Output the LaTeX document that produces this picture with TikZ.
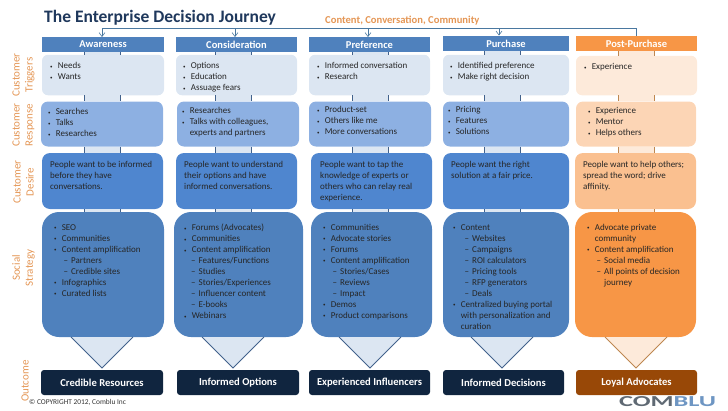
\documentclass[tikz,border=0pt]{standalone}
\usepackage{fontspec}
\setmainfont{Carlito}
\usetikzlibrary{arrows.meta,calc,positioning}
\definecolor{figNavy}{RGB}{31,56,92}
\definecolor{figTag}{RGB}{228,150,85}
\definecolor{figBus}{RGB}{74,120,160}
\definecolor{hdrB}{RGB}{79,129,189}
\definecolor{trigB}{RGB}{220,230,242}
\definecolor{respB}{RGB}{141,176,226}
\definecolor{wantB}{RGB}{79,134,207}
\definecolor{endB}{RGB}{16,37,63}
\definecolor{hdrO}{RGB}{247,150,70}
\definecolor{trigO}{RGB}{253,234,218}
\definecolor{respO}{RGB}{252,213,181}
\definecolor{wantO}{RGB}{250,192,144}
\definecolor{endO}{RGB}{152,72,7}
\definecolor{tickB}{RGB}{66,98,140}
\definecolor{tickO}{RGB}{190,135,80}
\definecolor{logoG}{RGB}{95,105,115}
\definecolor{logoB}{RGB}{110,150,195}
\newcommand{\itm}[1]{\makebox[7.6pt][l]{\raisebox{.6pt}{\fontsize{5}{5}\selectfont\textbullet}}#1}
\newcommand{\sub}[2][9.5pt]{\hspace*{#1}\makebox[7.5pt][l]{--}#2}
% two ticks and the pale strip between them
\newcommand{\joint}[5]{%
\fill[#1] (#3.south -| l#5) rectangle (#4.north -| r#5);
\draw[#2,thick] (#3.south -| l#5)--(#4.north -| l#5);
\draw[#2,thick] (#3.south -| r#5)--(#4.north -| r#5);}
\newcommand{\funnel}[3]{%
\fill[#1] ($(#2)+(-31,-31)$)--(#2)--($(#2)+(31,-31)$)--cycle;
\draw[#3,thick] ($(#2)+(-31,-31)$)--(#2)--($(#2)+(31,-31)$);}
\tikzset{
boxhdr/.style={inner sep=0pt,text=white,font=\fontsize{10.5}{11}\selectfont\bfseries},
boxend/.style={inner sep=0pt,rounded corners=3pt,text=white,font=\fontsize{10.6}{11}\selectfont\bfseries},
boxfill/.style={inner sep=0pt},
boxtext/.style={anchor=north west,inner sep=0pt,align=left,text=black!85,font=\fontsize{9}{11}\selectfont},
tagtext/.style={rotate=90,text=figTag,align=center,inner sep=0pt,font=\fontsize{11}{13}\selectfont},
busarrow/.style={figBus,semithick,-{Straight Barb[length=4pt,width=6pt]}},
}
\begin{document}
\begin{tikzpicture}[x=1pt,y=-1pt]
\useasboundingbox (0,0) rectangle (728,410);
\coordinate (lA) at (84,0); \coordinate (rA) at (120,0);
\coordinate (lB) at (215,0); \coordinate (rB) at (251,0);
\coordinate (lC) at (352,0); \coordinate (rC) at (388,0);
\coordinate (lD) at (484,0); \coordinate (rD) at (520,0);
\coordinate (lE) at (618,0); \coordinate (rE) at (654,0);
\coordinate (tipA) at (102,368);
\coordinate (tipB) at (233,368);
\coordinate (tipC) at (370,368);
\coordinate (tipD) at (502,368);
\coordinate (tipE) at (636,368);
% titles
\node[anchor=west,inner sep=0pt,text=figNavy,font=\fontsize{17.5}{18}\selectfont\bfseries] (title) at (44,18) {The Enterprise Decision Journey};
\node[anchor=west,inner sep=0pt,text=figTag,font=\fontsize{10.6}{11}\selectfont\bfseries] (theme) at (325,20.5) {Content, Conversation, Community};
% row labels
\node[tagtext] (tagTrig) at (23.5,75) {Customer\\Triggers};
\node[tagtext] (tagResp) at (23.5,125) {Customer\\Response};
\node[tagtext] (tagWant) at (23.5,182) {Customer\\Desire};
\node[tagtext] (tagStrat) at (23.5,268) {Social\\Strategy};
\node[tagtext] (tagEnd) at (25,381) {Outcome};
% Awareness
\node[boxhdr,fill=hdrB,minimum width=122,minimum height=14.5] (hdrA) at (103,44.5) {Awareness};
\node[boxfill,fill=trigB,rounded corners=6pt,minimum width=122,minimum height=40.5] (trigA) at (103,75) {};
\node[boxfill,fill=respB,rounded corners=7pt,minimum width=122,minimum height=45] (respA) at (102,124) {};
\node[boxfill,fill=wantB,rounded corners=8pt,minimum width=121,minimum height=56] (wantA) at (102.5,181) {};
\node[boxfill,fill=hdrB,rounded corners=17pt,minimum width=122,minimum height=125] (stratA) at (103,274.5) {};
\node[boxend,fill=endB,minimum width=122,minimum height=25] (endA) at (102,382.5) {Credible Resources};
\node[boxtext] (trigAt) at (50,62.5) {\itm{Needs}\\\itm{Wants}};
\node[boxtext] (respAt) at (48,108.5) {\itm{Searches}\\\itm{Talks}\\\itm{Researches}};
\node[boxtext] (wantAt) at (50,161.5) {People want to be informed\\before they have\\conversations.};
\node[boxtext] (stratAt) at (54,224) {\itm{SEO}\\\itm{Communities}\\\itm{Content amplification}\\\sub{Partners}\\\sub{Credible  sites}\\\itm{Infographics}\\\itm{Curated lists}};
% Consideration
\node[boxhdr,fill=hdrB,minimum width=121,minimum height=14.5] (hdrB) at (236.5,44.5) {Consideration};
\node[boxfill,fill=trigB,rounded corners=6pt,minimum width=121,minimum height=40.5] (trigB) at (236.5,75) {};
\node[boxfill,fill=respB,rounded corners=7pt,minimum width=122,minimum height=45] (respB) at (238,124) {};
\node[boxfill,fill=wantB,rounded corners=8pt,minimum width=121,minimum height=56] (wantB) at (236.5,181) {};
\node[boxfill,fill=hdrB,rounded corners=17pt,minimum width=129,minimum height=125] (stratB) at (238.5,274.5) {};
\node[boxend,fill=endB,minimum width=122,minimum height=25] (endB) at (238,382.5) {Informed Options};
\node[boxtext] (trigBt) at (183,62.5) {\itm{Options}\\\itm{Education}\\\itm{Assuage fears}};
\node[boxtext] (respBt) at (182,107.5) {\itm{Researches}\\\itm{Talks with colleagues,}\\\hspace*{7.6pt}experts and partners};
\node[boxtext] (wantBt) at (184,161.5) {People want to understand\\their options and have\\informed conversations.};
\node[boxtext] (stratBt) at (184,224) {\itm{Forums (Advocates)}\\\itm{Communities}\\\itm{Content amplification}\\\sub[7pt]{Features/Functions}\\\sub[7pt]{Studies}\\\sub[7pt]{Stories/Experiences}\\\sub[7pt]{Influencer content}\\\sub[7pt]{E-books}\\\itm{Webinars}};
% Preference
\node[boxhdr,fill=hdrB,minimum width=121,minimum height=14.5] (hdrC) at (369.5,44.5) {Preference};
\node[boxfill,fill=trigB,rounded corners=6pt,minimum width=121,minimum height=40.5] (trigC) at (369.5,75) {};
\node[boxfill,fill=respB,rounded corners=7pt,minimum width=122,minimum height=45] (respC) at (370,124) {};
\node[boxfill,fill=wantB,rounded corners=8pt,minimum width=121,minimum height=56] (wantC) at (371.5,181) {};
\node[boxfill,fill=hdrB,rounded corners=17pt,minimum width=121,minimum height=125] (stratC) at (371.5,274.5) {};
\node[boxend,fill=endB,minimum width=121,minimum height=25] (endC) at (369.5,382.5) {Experienced Influencers};
\node[boxtext] (trigCt) at (317,62.5) {\itm{Informed conversation}\\\itm{Research}};
\node[boxtext] (respCt) at (317,106.5) {\itm{Product-set}\\\itm{Others like me}\\\itm{More conversations}};
\node[boxtext] (wantCt) at (320,161.5) {People want to tap the\\knowledge of experts or\\others who can relay real\\experience.};
\node[boxtext] (stratCt) at (323,224) {\itm{Communities}\\\itm{Advocate stories}\\\itm{Forums}\\\itm{Content amplification}\\\sub{Stories/Cases}\\\sub{Reviews}\\\sub{Impact}\\\itm{Demos}\\\itm{Product comparisons}};
% Purchase
\node[boxhdr,fill=hdrB,minimum width=126,minimum height=15.5] (hdrD) at (506,43.5) {Purchase};
\node[boxfill,fill=trigB,rounded corners=6pt,minimum width=126,minimum height=40.5] (trigD) at (506,75) {};
\node[boxfill,fill=respB,rounded corners=7pt,minimum width=126,minimum height=45] (respD) at (506,124) {};
\node[boxfill,fill=wantB,rounded corners=8pt,minimum width=126,minimum height=56] (wantD) at (506,181) {};
\node[boxfill,fill=hdrB,rounded corners=17pt,minimum width=126,minimum height=125] (stratD) at (506,274.5) {};
\node[boxend,fill=endB,minimum width=121,minimum height=25] (endD) at (503.5,382.5) {Informed Decisions};
\node[boxtext] (trigDt) at (450,62.5) {\itm{Identified preference}\\\itm{Make right decision}};
\node[boxtext] (respDt) at (448,106.5) {\itm{Pricing}\\\itm{Features}\\\itm{Solutions}};
\node[boxtext] (wantDt) at (451,161.5) {People want the right\\solution at a fair price.};
\node[boxtext] (stratDt) at (453,224) {\itm{Content}\\\sub[11.5pt]{Websites}\\\sub[11.5pt]{Campaigns}\\\sub[11.5pt]{ROI calculators}\\\sub[11.5pt]{Pricing tools}\\\sub[11.5pt]{RFP generators}\\\sub[11.5pt]{Deals}\\\itm{Centralized buying portal}\\\hspace*{7.6pt}with personalization and\\\hspace*{7.6pt}curation};
% Post-Purchase
\node[boxhdr,fill=hdrO,minimum width=121,minimum height=14.5] (hdrE) at (636.5,43.5) {Post-Purchase};
\node[boxfill,fill=trigO,rounded corners=6pt,minimum width=121,minimum height=39.5] (trigE) at (636.5,75.5) {};
\node[boxfill,fill=respO,rounded corners=7pt,minimum width=120,minimum height=45] (respE) at (636,124) {};
\node[boxfill,fill=wantO,rounded corners=8pt,minimum width=121,minimum height=56] (wantE) at (635.5,181) {};
\node[boxfill,fill=hdrO,rounded corners=17pt,minimum width=121,minimum height=125] (stratE) at (635.5,274.5) {};
\node[boxend,fill=endO,minimum width=121,minimum height=25] (endE) at (636.5,382.5) {Loyal Advocates};
\node[boxtext] (trigEt) at (584,63.5) {\itm{Experience}};
\node[boxtext] (respEt) at (588,107.5) {\itm{Experience}\\\itm{Mentor}\\\itm{Helps others}};
\node[boxtext] (wantEt) at (583,161.5) {People want to help others;\\spread the word; drive\\affinity.};
\node[boxtext] (stratEt) at (587,224) {\itm{Advocate private}\\\hspace*{7.6pt}community\\\itm{Content amplification}\\\sub{Social media}\\\sub{All points of decision}\\\hspace*{17pt}journey};
% ticks between rows
\joint{trigB}{tickB}{hdrA}{trigA}{A} \joint{trigB}{tickB}{trigA}{respA}{A} \joint{trigB}{tickB}{respA}{wantA}{A} \joint{trigB}{tickB}{wantA}{stratA}{A}
\joint{trigB}{tickB}{hdrB}{trigB}{B} \joint{trigB}{tickB}{trigB}{respB}{B} \joint{trigB}{tickB}{respB}{wantB}{B} \joint{trigB}{tickB}{wantB}{stratB}{B}
\joint{trigB}{tickB}{hdrC}{trigC}{C} \joint{trigB}{tickB}{trigC}{respC}{C} \joint{trigB}{tickB}{respC}{wantC}{C} \joint{trigB}{tickB}{wantC}{stratC}{C}
\joint{trigB}{tickB}{hdrD}{trigD}{D} \joint{trigB}{tickB}{trigD}{respD}{D} \joint{trigB}{tickB}{respD}{wantD}{D} \joint{trigB}{tickB}{wantD}{stratD}{D}
\joint{trigO}{tickO}{hdrE}{trigE}{E} \joint{trigO}{tickO}{trigE}{respE}{E} \joint{trigO}{tickO}{respE}{wantE}{E} \joint{trigO}{tickO}{wantE}{stratE}{E}
% funnels
\funnel{trigB}{tipA}{tickB}
\funnel{trigB}{tipB}{tickB}
\funnel{trigB}{tipC}{tickB}
\funnel{trigB}{tipD}{tickB}
\funnel{trigO}{tipE}{tickO}
% bus
\coordinate (busL) at (102,28);
\coordinate (busR) at (636,28);
\coordinate (busB) at (235,28);
\coordinate (busC) at (368,28);
\coordinate (busD) at (499,28);
\draw[figBus,semithick] (busL)--(busR)--(busR |- hdrE.north);
\draw[busarrow] (busL)--(busL |- hdrA.north);
\draw[busarrow] (busB)--(busB |- hdrB.north);
\draw[busarrow] (busC)--(busC |- hdrC.north);
\draw[busarrow] (busD)--(busD |- hdrD.north);
% footer
\node[anchor=west,inner sep=0pt,text=black!80,font=\fontsize{7.4}{8}\selectfont] (copyr) at (29,402.5) {© COPYRIGHT 2012, Comblu Inc};
\node[inner sep=0pt,font=\fontsize{16}{16}\selectfont\bfseries] (logo) at (667.5,402) {\resizebox{97pt}{10pt}{\textcolor{logoG}{COM}\textcolor{logoB}{BLU}}};
\end{tikzpicture}
\end{document}
